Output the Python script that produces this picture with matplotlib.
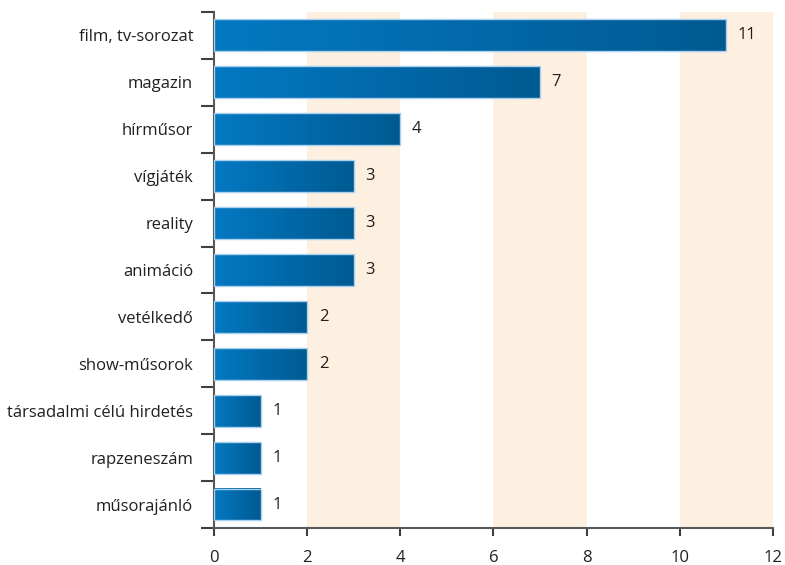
import numpy as np
from matplotlib import pyplot as plt
from matplotlib.colors import LinearSegmentedColormap

categories = ["film, tv-sorozat", "magazin", "hírműsor", "vígjáték", "reality",
              "animáció", "vetélkedő", "show-műsorok", "társadalmi célú hirdetés",
              "rapzeneszám", "műsorajánló"]
values = [11, 7, 4, 3, 3, 3, 2, 2, 1, 1, 1]
x_ticks = [0, 2, 4, 6, 8, 10, 12]

plt.rcParams['font.family'] = ['Open Sans', 'DejaVu Sans']

fig = plt.figure(figsize=(7.85, 5.65), dpi=100)
ax = fig.add_axes([0.2726, 0.0655, 0.712, 0.9133])

n = len(categories)
y = np.arange(n)[::-1]
bar_h = 0.68
cmap = LinearSegmentedColormap.from_list("bar", ["#0479c2", "#005a92"])
grad = np.linspace(0, 1, 256).reshape(1, -1)

# beige bands
for x0 in x_ticks[1::2]:
    ax.axvspan(x0, x0 + 2, color="#fdf0e0", zorder=0, lw=0)

for yi, v in zip(y, values):
    ax.imshow(grad, cmap=cmap, aspect="auto", extent=[0, v, yi - bar_h / 2, yi + bar_h / 2], zorder=2)
    ax.barh(yi, v, height=bar_h, facecolor="none", edgecolor="#a9d0ee", lw=1.0, zorder=3)
    ax.text(v + 0.25, yi, str(v), va="center", ha="left", fontsize=12, color="#231f20")

ax.set_xlim(0, 12)
ax.set_ylim(-0.5, n - 0.5)
ax.set_xticks(x_ticks)
ax.set_xticklabels([str(t) for t in x_ticks], fontsize=12, color="#231f20")
ax.set_yticks(y)
ax.set_yticklabels(categories, fontsize=12, color="#231f20")
ax.tick_params(axis="y", length=0, pad=15)
ax.set_yticks(np.arange(-0.5, n, 1), minor=True)
ax.tick_params(axis="y", which="minor", length=9.5, width=1.5, color="#404041")
ax.tick_params(axis="x", length=6, width=1.5, color="#404041", pad=10)

for s in ["top", "right"]:
    ax.spines[s].set_visible(False)
for s in ["left", "bottom"]:
    ax.spines[s].set_color("#58595b")
    ax.spines[s].set_linewidth(1.5)

fig.savefig("out.png", dpi=100)
